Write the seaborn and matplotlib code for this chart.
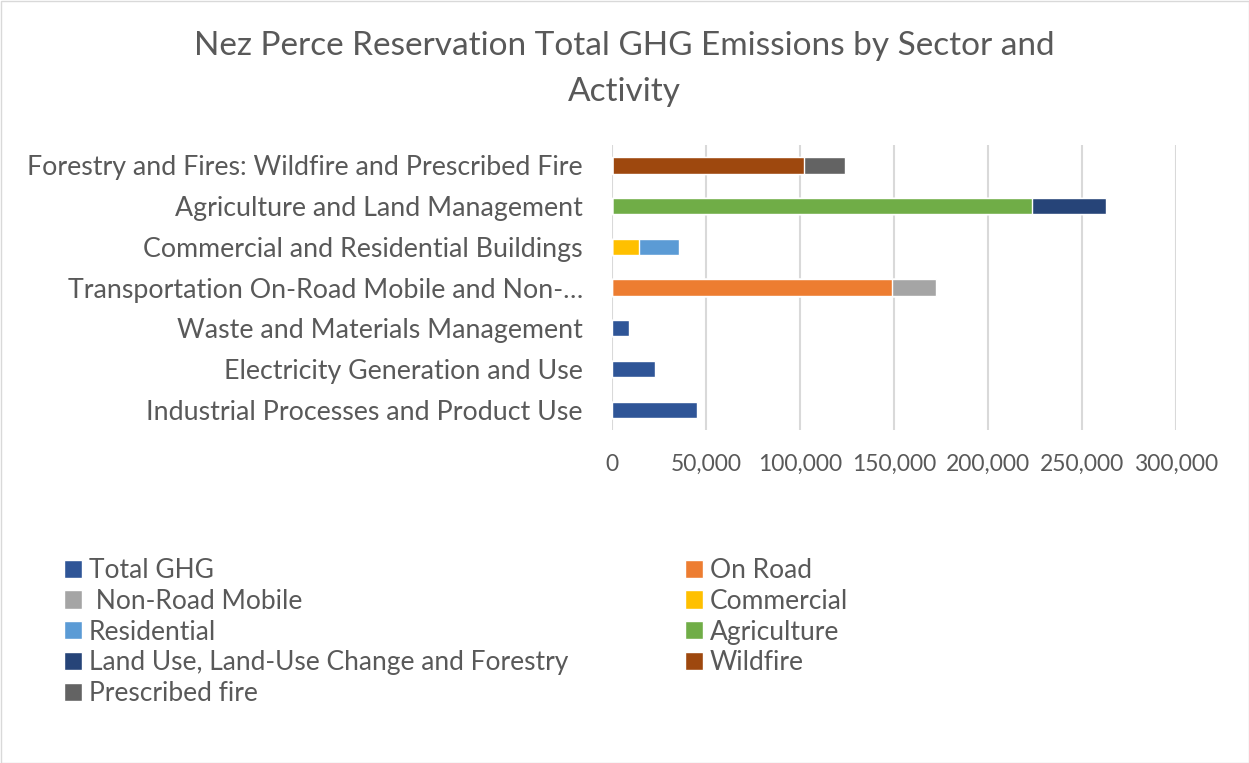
import numpy as np
import pandas as pd
import seaborn as sns
from matplotlib import pyplot as plt
from matplotlib.patches import Patch, Rectangle

# categories, top to bottom as shown
categories = [
    "Forestry and Fires: Wildfire and Prescribed Fire",
    "Agriculture and Land Management",
    "Commercial and Residential Buildings",
    "Transportation On-Road Mobile and Non-\u2026",
    "Waste and Materials Management",
    "Electricity Generation and Use",
    "Industrial Processes and Product Use",
]

# series values (tCO2e), stacked in this order
total_ghg = [0, 0, 0, 0, 9000, 22900, 45200]
on_road = [0, 0, 0, 148800, 0, 0, 0]
non_road = [0, 0, 0, 23400, 0, 0, 0]
commercial = [0, 0, 14200, 0, 0, 0, 0]
residential = [0, 0, 21300, 0, 0, 0, 0]
agriculture = [0, 223200, 0, 0, 0, 0, 0]
lulucf = [0, 39400, 0, 0, 0, 0, 0]
wildfire = [102300, 0, 0, 0, 0, 0, 0]
prescribed = [21400, 0, 0, 0, 0, 0, 0]

series_names = ["Total GHG", "On Road", " Non-Road Mobile", "Commercial", "Residential",
                "Agriculture", "Land Use, Land-Use Change and Forestry", "Wildfire", "Prescribed fire"]
series_values = [total_ghg, on_road, non_road, commercial, residential,
                 agriculture, lulucf, wildfire, prescribed]
series_colors = ["#2F5597", "#ED7D31", "#A5A5A5", "#FFC000", "#5B9BD5",
                 "#70AD47", "#264478", "#9E480E", "#636363"]

TEXT = "#595959"

sns.set_theme(style="white")
plt.rcParams["font.family"] = ["Lato", "DejaVu Sans"]

fig = plt.figure(figsize=(12.49, 7.63), dpi=100)
ax = fig.add_axes([612 / 1249, 1 - 430 / 763, (1176 - 612) / 1249, (430 - 145) / 763])

# cumulative ends for stacking; draw last segment first so earlier ones sit on top
df = pd.DataFrame(dict(zip(series_names, series_values)), index=categories)
cum = df.cumsum(axis=1)
for name, color in reversed(list(zip(series_names, series_colors))):
    sns.barplot(x=cum[name].values, y=categories, orient="h", color=color,
                width=0.4, ax=ax, saturation=1)

ax.set_xlim(0, 300000)
ax.set_xticks(np.arange(0, 300001, 50000))
ax.set_xticklabels([f"{v:,}" for v in range(0, 300001, 50000)])
ax.xaxis.grid(True, color="#D9D9D9", linewidth=1.5)
ax.set_axisbelow(True)
for s in ax.spines.values():
    s.set_visible(False)
ax.tick_params(axis="both", length=0, labelcolor=TEXT)
ax.tick_params(axis="y", pad=21, labelsize=19.3)
ax.tick_params(axis="x", pad=17, labelsize=16.5)
ax.set_xlabel("")
ax.set_ylabel("")

fig.text(0.5, 1 - 69 / 763, "Nez Perce Reservation Total GHG Emissions by Sector and\nActivity",
         ha="center", va="center", fontsize=24, color=TEXT, linespacing=1.7)

# legend: Excel fills row-wise, matplotlib fills column-wise
order = [0, 2, 4, 6, 8, 1, 3, 5, 7]
handles = [Patch(facecolor=series_colors[i], label=series_names[i]) for i in order]
fig.legend(handles=handles, loc="upper left", bbox_to_anchor=(64 / 1249, 1 - 558 / 763),
           ncol=2, frameon=False, fontsize=19, labelcolor=TEXT,
           borderaxespad=0, borderpad=0,
           handlelength=0.68, handleheight=0.68, handletextpad=0.25,
           columnspacing=4.45, labelspacing=0.22)

fig.patches.append(Rectangle((0.5 / 1249, 0.5 / 763), 1 - 1 / 1249, 1 - 1 / 763,
                             transform=fig.transFigure, fill=False,
                             edgecolor="#D9D9D9", linewidth=1))

fig.savefig("out.png", dpi=100)
